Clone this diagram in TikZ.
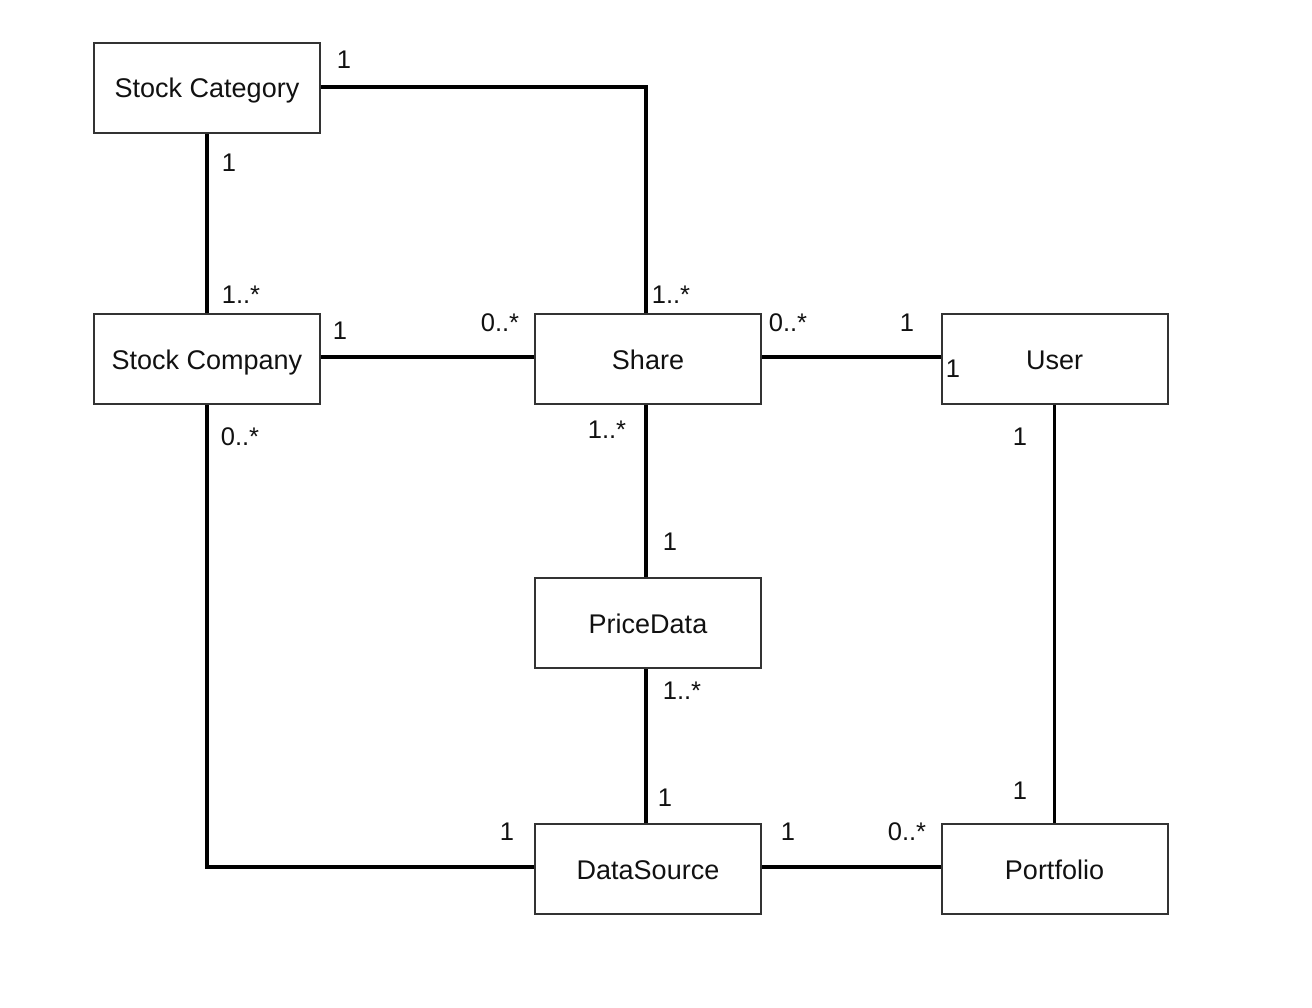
\documentclass[tikz,border=0pt]{standalone}
\usepackage{fontspec}
\setmainfont{Liberation Sans}
\definecolor{boxline}{HTML}{333333}
\definecolor{txt}{HTML}{111111}
\begin{document}
\begin{tikzpicture}[x=1pt,y=-1pt,
  cls/.style={draw=boxline,line width=2pt,minimum width=226pt,minimum height=90pt,inner sep=0pt,text=txt,text height=24pt,text depth=4pt,font=\fontsize{27}{30}\selectfont},
  assoc/.style={line width=3.5pt,draw=black},
  mult/.style={font=\fontsize{25.5}{28}\selectfont,inner sep=0pt,text=txt}]
\useasboundingbox (0,0) rectangle (1312,1008);
\node[cls] (cat) at (207,88) {Stock Category};
\node[cls] (comp) at (207,359) {Stock Company};
\node[cls] (share) at (648,359) {Share};
\node[cls] (user) at (1054.5,359) {User};
\node[cls] (price) at (648,623) {PriceData};
\node[cls] (ds) at (648,869) {DataSource};
\node[cls] (port) at (1054.5,869) {Portfolio};
\coordinate (c1) at (646,87);
\coordinate (c2) at (207,867);
\draw[assoc] (cat.east |- c1) -- (c1) -- (c1 |- share.north);
\draw[assoc] (cat.south) -- (comp.north);
\draw[assoc] (comp.east) ++(0,-2) -- (share.west |- 0,357);
\draw[assoc] (share.east |- 0,357) -- (user.west |- 0,357);
\draw[assoc] (share.south -| c1) -- (price.north -| c1);
\draw[assoc] (price.south -| c1) -- (ds.north -| c1);
\draw[assoc] (comp.south) -- (c2) -- (ds.west |- c2);
\draw[assoc] (ds.east |- c2) -- (port.west |- c2);
\draw[assoc] (user.south) -- (port.north);
\node[mult] (m1) at (344,60) {1};
\node[mult] (m2) at (229,163) {1};
\node[mult] (m3) at (241,295) {1..*};
\node[mult] (m4) at (671,295) {1..*};
\node[mult] (m5) at (340,331) {1};
\node[mult] (m6) at (500,323) {0..*};
\node[mult] (m7) at (788,323) {0..*};
\node[mult] (m8) at (907,323) {1};
\node[mult] (m9) at (953,369) {1};
\node[mult] (m10) at (240,437) {0..*};
\node[mult] (m11) at (607,430) {1..*};
\node[mult] (m12) at (1020,437) {1};
\node[mult] (m13) at (670,542) {1};
\node[mult] (m14) at (682,691) {1..*};
\node[mult] (m15) at (665,798) {1};
\node[mult] (m16) at (1020,791) {1};
\node[mult] (m17) at (507,832) {1};
\node[mult] (m18) at (788,832) {1};
\node[mult] (m19) at (907,832) {0..*};
\end{tikzpicture}
\end{document}
